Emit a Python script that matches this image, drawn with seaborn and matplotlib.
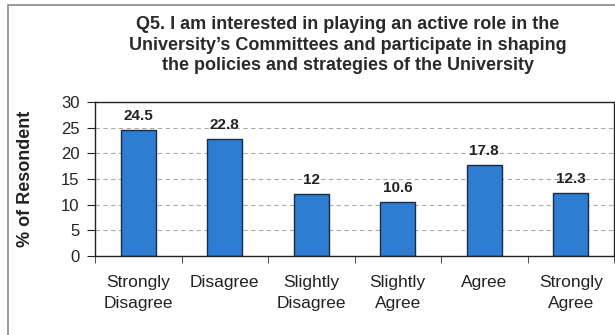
import pandas as pd
import matplotlib.pyplot as plt
import seaborn as sns
from matplotlib.patches import Rectangle

# Chart data
categories = ["Strongly\nDisagree", "Disagree", "Slightly\nDisagree",
              "Slightly\nAgree", "Agree", "Strongly\nAgree"]
percent = [24.5, 22.8, 12, 10.6, 17.8, 12.3]
value_labels = ["24.5", "22.8", "12", "10.6", "17.8", "12.3"]
y_ticks = [0, 5, 10, 15, 20, 25, 30]

title = ("Q5. I am interested in playing an active role in the\n"
         "University\u2019s Committees and participate in shaping\n"
         "the policies and strategies of the University")

df = pd.DataFrame({"Response": categories, "Percent": percent})

sns.set_style("white")
plt.rcParams['font.family'] = ['Liberation Sans', 'DejaVu Sans']

fig = plt.figure(figsize=(6.15, 3.35), dpi=100)
ax = fig.add_axes([95 / 615, 1 - 256 / 335, 519 / 615, 154 / 335])

sns.barplot(data=df, x="Response", y="Percent", color="#2D7DD2",
            saturation=1, width=0.4, edgecolor="#1c2b45", linewidth=1.0, ax=ax)

for i, (v, lab) in enumerate(zip(percent, value_labels)):
    ax.annotate(lab, (i, v), xytext=(0, 5), textcoords="offset points",
                ha="center", va="bottom", fontsize=11, fontweight="bold",
                color="#222222")

ax.set_ylim(0, 30)
ax.set_yticks(y_ticks)
ax.set_xlim(-0.5, 5.5)
ax.yaxis.grid(True, linestyle=(0, (4, 3)), color="#aaaaaa", linewidth=0.8)
ax.set_axisbelow(True)
for s in ax.spines.values():
    s.set_visible(True)
    s.set_color("#222222")
    s.set_linewidth(1.0)

# tick marks between categories
ax.set_xticks([i + 0.5 for i in range(-1, 6)], minor=True)
ax.tick_params(axis="x", which="minor", direction="out", length=5,
               color="#333333", bottom=True)
ax.tick_params(axis="x", which="major", length=0, pad=14, labelsize=12.5,
               colors="#222222")
ax.tick_params(axis="y", direction="out", length=6, left=True, pad=5,
               labelsize=12, colors="#222222")
for t in ax.get_xticklabels():
    t.set_linespacing(1.45)

ax.set_xlabel("")
ax.set_ylabel("% of Resondent", fontsize=13, fontweight="bold",
              color="#222222")
ax.yaxis.set_label_coords(-(95 - 34) / 519, 0.5)

fig.text(348 / 615, 1 - 45 / 335, title, ha="center", va="center",
         fontsize=13, fontweight="bold", color="#2a2a2a", linespacing=1.3)

# outer frame of the original chart
fig.patches.append(Rectangle((8 / 615, -0.1), 1.2, 1.1 - 5 / 335,
                             transform=fig.transFigure, fill=False,
                             edgecolor="#888888", linewidth=1.2))

fig.savefig("out.png", dpi=100)
